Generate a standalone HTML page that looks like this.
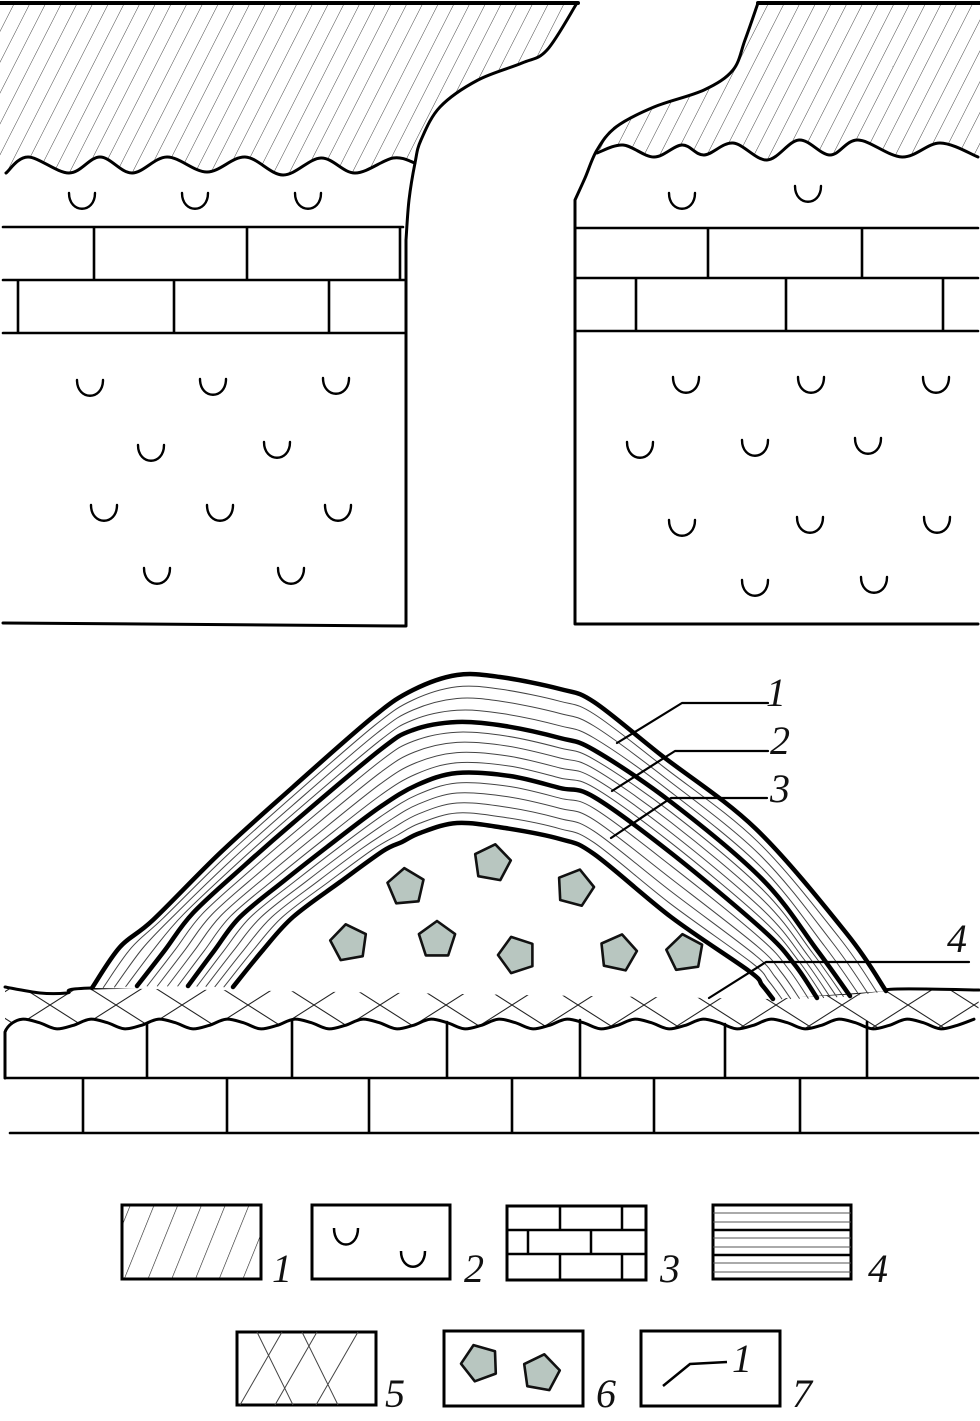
<!DOCTYPE html>
<html><head><meta charset="utf-8"><style>
html,body{margin:0;padding:0;background:#fff;}
svg{display:block;}
.lab{font-family:"Liberation Serif",serif;font-style:italic;font-size:40px;fill:#111;}
</style></head><body>
<svg id="s" width="980" height="1421" viewBox="0 0 980 1421" xmlns="http://www.w3.org/2000/svg">
<defs>
<pattern id="hat" width="14" height="40" patternUnits="userSpaceOnUse" patternTransform="rotate(27)">
<line x1="0" y1="0" x2="0" y2="40" stroke="#333" stroke-width="0.9"/>
</pattern>
<pattern id="hatL" width="22" height="40" patternUnits="userSpaceOnUse" patternTransform="rotate(22)">
<line x1="0" y1="0" x2="0" y2="40" stroke="#222" stroke-width="1.2"/>
</pattern>
<pattern id="xh" x="17" y="984" width="66" height="42" patternUnits="userSpaceOnUse">
<line x1="0" y1="0" x2="66" y2="42" stroke="#222" stroke-width="1.1"/>
<line x1="0" y1="42" x2="66" y2="0" stroke="#222" stroke-width="1.1"/>
</pattern>
</defs>
<g id="g" fill="none" stroke="#000" stroke-linecap="round" stroke-linejoin="round"></g>

<!-- Legend -->
<g fill="none" stroke="#000">
<rect x="122" y="1205" width="139" height="74" fill="url(#hatL)" stroke-width="3"/>
<rect x="312" y="1205" width="138" height="74" stroke-width="3"/>
<path d="M334,1228 C334,1250 358,1250 358,1228" stroke-width="2.5"/>
<path d="M401,1251 C401,1272 425,1272 425,1251" stroke-width="2.5"/>
<rect x="507" y="1206" width="139" height="74" stroke-width="3"/>
<path d="M507,1230 H646 M507,1254 H646 M560,1206 V1230 M622,1206 V1230 M528,1230 V1254 M591,1230 V1254 M560,1254 V1280 M622,1254 V1280" stroke-width="2.5"/>
<rect x="713" y="1205" width="138" height="74" stroke-width="3"/>
<path d="M713,1230 H851 M713,1255 H851" stroke-width="2.5"/>
<path d="M713,1213 H851 M713,1222 H851 M713,1238 H851 M713,1247 H851 M713,1263 H851 M713,1272 H851" stroke-width="1" stroke="#555"/>
<rect x="237" y="1332" width="139" height="73" stroke-width="3"/>
<path d="M257,1332 L293,1405 M302,1332 L338,1405 M282,1332 L240,1405 M317,1332 L275,1405 M358,1332 L316,1405" stroke-width="1" stroke="#444"/>
<rect x="444" y="1331" width="139" height="75" stroke-width="3"/>
<rect x="641" y="1331" width="139" height="75" stroke-width="3"/>
<polyline points="663,1386 690,1364 727,1362" stroke-width="2.5"/>
</g>
<text class="lab" x="272" y="1282">1</text>
<text class="lab" x="464" y="1282">2</text>
<text class="lab" x="660" y="1282">3</text>
<text class="lab" x="868" y="1282">4</text>
<text class="lab" x="385" y="1407">5</text>
<text class="lab" x="596" y="1407">6</text>
<text class="lab" x="792" y="1407">7</text>
<text class="lab" x="732" y="1372">1</text>
<text class="lab" x="766" y="706">1</text>
<text class="lab" x="770" y="754">2</text>
<text class="lab" x="770" y="802">3</text>
<text class="lab" x="947" y="952">4</text>
</svg>
<script>
var NS="http://www.w3.org/2000/svg",g=document.getElementById('g'),S=document.getElementById('s');
function el(t,a,p){var e=document.createElementNS(NS,t);for(var k in a)e.setAttribute(k,a[k]);(p||g).appendChild(e);return e;}
function cr(p,start){var d=start===false?'':'M'+p[0][0]+','+p[0][1];
 for(var i=0;i<p.length-1;i++){var p0=p[i-1]||p[i],p1=p[i],p2=p[i+1],p3=p[i+2]||p2;
 d+=' C'+(p1[0]+(p2[0]-p0[0])/6).toFixed(1)+','+(p1[1]+(p2[1]-p0[1])/6).toFixed(1)+' '+(p2[0]-(p3[0]-p1[0])/6).toFixed(1)+','+(p2[1]-(p3[1]-p1[1])/6).toFixed(1)+' '+p2[0]+','+p2[1];}
 return d;}
// TOP LEFT
var Lc=[[577,3],[547,50],[522,63],[478,80],[440,107],[421,140],[415,163]];
var Lw=[[6,173],[28,157],[69,173],[100,157],[132,173],[167,157],[207,172],[245,157],[283,175],[321,158],[355,173],[393,158],[415,163]];
var lwr=Lw.slice().reverse();
el('path',{d:'M0,3 L577,3 '+cr(Lc,false)+' '+cr(lwr,false)+' L0,173 Z',fill:'url(#hat)',stroke:'none'});
el('path',{d:'M0,3 L578,3','stroke-width':4});
el('path',{d:cr(Lc.concat([[409,200],[406,240]]))+' L406,626 L3,623','stroke-width':3});
el('path',{d:cr(Lw),'stroke-width':3});
el('path',{d:'M3,227 H403 M3,280 H406 M3,333 H406 M94,227 V280 M247,227 V280 M400,227 V280 M18,280 V333 M174,280 V333 M329,280 V333','stroke-width':2.6});
// TOP RIGHT
var Rc=[[758,3],[745,40],[733,70],[704,90],[654,107],[616,127],[597,150]];
var Rw=[[597,153],[623,145],[654,157],[682,145],[704,155],[733,143],[767,160],[799,140],[830,155],[858,140],[902,157],[940,143],[978,157]];
el('path',{d:'M980,3 L758,3 '+cr(Rc,false)+' '+cr(Rw,false)+' L980,157 Z',fill:'url(#hat)',stroke:'none'});
el('path',{d:'M758,3 L980,3','stroke-width':4});
el('path',{d:cr(Rc.concat([[585,178],[575,200]]))+' L575,624 L978,624','stroke-width':3});
el('path',{d:cr(Rw),'stroke-width':3});
el('path',{d:'M575,228 H978 M575,278 H978 M575,331 H978 M708,228 V278 M862,228 V278 M636,278 V331 M786,278 V331 M943,278 V331','stroke-width':2.6});
// cups
var cups=[[82,193],[195,193],[308,193],[90,380],[213,379],[336,378],[151,445],[277,442],[104,505],[220,505],[338,505],[157,568],[291,568],
[682,193],[808,186],[686,377],[811,377],[936,377],[640,442],[755,440],[868,438],[682,520],[810,517],[937,517],[755,580],[874,577]];
cups.forEach(function(c){var x=c[0],y=c[1];el('path',{d:'M'+(x-13)+','+y+' C'+(x-13)+','+(y+21)+' '+(x+13)+','+(y+21)+' '+(x+13)+','+y,'stroke-width':2.4});});
// BASE
var bt=[[5,987],[40,993],[67,993],[92,988],[300,986],[500,989],[700,994],[772,996],[850,993],[898,989],[979,990]];
var lw=[];for(var x=5;x<=978;x+=17){lw.push([x,+(1024-5*Math.cos((x-93)/68*2*Math.PI)).toFixed(1)]);}
var lwr2=lw.slice().reverse();
el('path',{d:cr(bt)+' L978,1024 '+cr(lwr2,false)+' Z',fill:'url(#xh)',stroke:'none'});
el('path',{d:cr(bt),'stroke-width':3});
el('path',{d:'M5,1078 L5,1032 '+cr(lw,false),'stroke-width':3});
el('path',{d:'M5,1078 H978 M10,1133 H978 M147,1024 V1078 M292,1020 V1078 M447,1022 V1078 M580,1020 V1078 M725,1024 V1078 M867,1022 V1078 M83,1078 V1133 M227,1078 V1133 M369,1078 V1133 M512,1078 V1133 M654,1078 V1133 M800,1078 V1133','stroke-width':2.6});
// DOME
var O=[[92,988],[120,947],[153,920],[220,853],[293,787],[373,717],[413,690],[457,675],[500,677],[560,689],[594,702],[661,755],[756,829],[847,934],[886,991]];
var A=[[137,986],[165,950],[193,913],[245,865],[293,823],[380,750],[413,730],[457,722],[505,726],[560,738],[594,750],[671,802],[763,880],[817,950],[850,996]];
var B=[[188,986],[214,951],[240,917],[285,880],[327,847],[380,807],[417,785],[457,773],[510,776],[560,788],[594,797],[671,853],[763,930],[795,965],[817,998]];
var C=[[233,987],[263,950],[293,917],[340,882],[383,851],[402,842],[420,833],[457,823],[505,828],[560,839],[594,854],[671,917],[749,971],[762,985],[773,999]];
el('path',{d:cr(O)+' L773,999 Z',fill:'#fff',stroke:'none'});
function lerp(P,Q,t){return P.map(function(p,i){return [+(p[0]*(1-t)+Q[i][0]*t).toFixed(1),+(p[1]*(1-t)+Q[i][1]*t).toFixed(1)];});}
[[O,A,3],[A,B,4],[B,C,4]].forEach(function(s){for(var k=1;k<=s[2];k++){el('path',{d:cr(lerp(s[0],s[1],k/(s[2]+1))),'stroke-width':1,stroke:'#444'});}});
[O,A,B,C].forEach(function(P){el('path',{d:cr(P),'stroke-width':4.5});});
// pentagons
var pents=[[492,863,10,19],[406,887,-5,19],[575,888,15,19],[349,943,-10,19],[437,940,0,19],[517,955,-18,19],[618,953,12,19],[685,953,-8,19],[480,1363,-20,19],[541,1373,10,19]];
pents.forEach(function(p){var pts=[];for(var i=0;i<5;i++){var a=(p[2]-90+72*i)*Math.PI/180;pts.push((p[0]+p[3]*Math.cos(a)).toFixed(1)+','+(p[1]+p[3]*Math.sin(a)).toFixed(1));}
el('polygon',{points:pts.join(' '),fill:'#b8c6c0',stroke:'#111','stroke-width':2.6});});
// leaders
el('path',{d:'M617,743 L682,703 L768,703 M612,791 L675,751 L768,751 M611,838 L671,798 L767,798 M709,998 L766,962 L969,962','stroke-width':2.2});
</script>
</body></html>
